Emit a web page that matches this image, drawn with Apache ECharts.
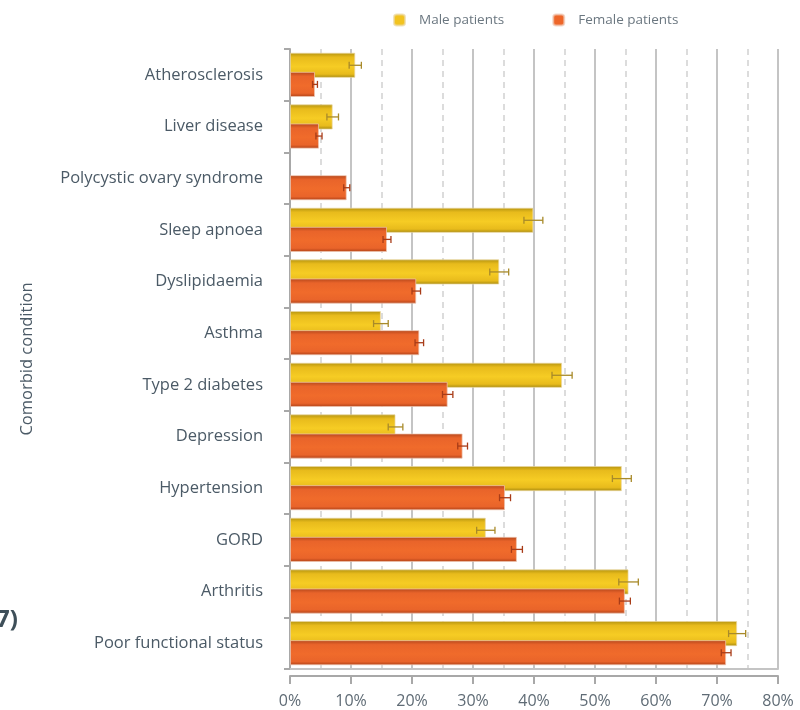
<!DOCTYPE html>
<html>
<head>
<meta charset="utf-8">
<script src="https://cdn.jsdelivr.net/npm/echarts@6/dist/echarts.min.js"></script>
<style>
  html, body { margin: 0; padding: 0; background: #fff; }
  #chart { width: 800px; height: 710px; }
</style>
</head>
<body>
<div id="chart"></div>
<script>
// Comorbid conditions by sex (percentage of patients, with error bars)
const categories = [
  'Atherosclerosis', 'Liver disease', 'Polycystic ovary syndrome', 'Sleep apnoea',
  'Dyslipidaemia', 'Asthma', 'Type 2 diabetes', 'Depression', 'Hypertension',
  'GORD', 'Arthritis', 'Poor functional status'
];
const maleValues   = [10.7, 7.0, null, 39.9, 34.3, 14.9, 44.6, 17.3, 54.4, 32.1, 55.5, 73.3];
const maleErr      = [1.0, 0.95, null, 1.55, 1.55, 1.2, 1.65, 1.2, 1.55, 1.5, 1.6, 1.4];
const femaleValues = [4.1, 4.75, 9.3, 15.9, 20.7, 21.2, 25.85, 28.3, 35.25, 37.2, 54.9, 71.5];
const femaleErr    = [0.4, 0.5, 0.5, 0.65, 0.7, 0.7, 0.85, 0.8, 0.9, 0.9, 0.9, 0.8];
const xTicks = [0, 10, 20, 30, 40, 50, 60, 70, 80];

const CAT_GAP = 0.143;   // barCategoryGap as a fraction of the band
const BAR_GAP = -0.24;   // overlap between the two bars as a fraction of bar width

const textColor = '#4b5a66';
const gridSolid = '#c4c4c4';
const axisGray = '#a8a8a8';

function grad(edgeTop, mid1, mid2, edgeBot) {
  return new echarts.graphic.LinearGradient(0, 0, 0, 1, [
    { offset: 0, color: edgeTop },
    { offset: 0.18, color: mid1 },
    { offset: 0.55, color: mid2 },
    { offset: 0.85, color: mid1 },
    { offset: 1, color: edgeBot }
  ]);
}

function errData(values, errs) {
  const out = [];
  values.forEach((v, i) => {
    if (v != null) out.push([v, i, errs[i]]);
  });
  return out;
}

function errRenderer(seriesPos, color) {
  return function (params, api) {
    const v = api.value(0), idx = api.value(1), e = api.value(2);
    const band = api.size([0, 1])[1];
    const barW = band * (1 - CAT_GAP) / (2 + BAR_GAP);
    const span = 2 * barW + BAR_GAP * barW;
    const offset = -span / 2 + barW / 2 + seriesPos * (barW + BAR_GAP * barW);
    const c = api.coord([v, idx]);
    const y = c[1] + offset;
    const x0 = api.coord([v - e, idx])[0];
    const x1 = api.coord([v + e, idx])[0];
    const st = { stroke: color, lineWidth: 1.3 };
    return {
      type: 'group',
      children: [
        { type: 'line', shape: { x1: x0, y1: y, x2: x1, y2: y }, style: st },
        { type: 'line', shape: { x1: x0, y1: y - 3.5, x2: x0, y2: y + 3.5 }, style: st },
        { type: 'line', shape: { x1: x1, y1: y - 3.5, x2: x1, y2: y + 3.5 }, style: st }
      ]
    };
  };
}

const chart = echarts.init(document.getElementById('chart'), null, { renderer: 'canvas' });

const option = {
  animation: false,
  backgroundColor: '#ffffff',
  textStyle: { fontFamily: 'Open Sans' },
  color: ['#f2c31f', '#ee6629'],
  legend: {
    top: 8,
    left: 388,
    itemWidth: 11,
    itemHeight: 11,
    itemGap: 48,
    icon: 'roundRect',
    textStyle: { color: '#6b7780', fontSize: 13.5, fontFamily: 'Open Sans', padding: [0, 0, 0, 9] },
    data: [
      { name: 'Male patients', itemStyle: { color: '#f2c31f' } },
      { name: 'Female patients', itemStyle: { color: '#ee6629' } }
    ]
  },
  grid: { left: 290, right: 22, top: 49, bottom: 41, containLabel: false },
  xAxis: [
    {
      type: 'value', min: 0, max: 80, interval: 10,
      axisLine: { show: true, lineStyle: { color: gridSolid, width: 2 } },
      axisTick: { show: false },
      axisLabel: { show: false },
      splitLine: { show: true, lineStyle: { color: gridSolid, width: 2 } },
      minorTick: { show: false, splitNumber: 2 },
      minorSplitLine: { show: true, lineStyle: { color: '#dcdcdc', width: 2, type: [6, 5] } }
    },
    {
      type: 'value', min: 0, max: 80, interval: 10, position: 'bottom', offset: 7,
      axisLine: { show: true, lineStyle: { color: axisGray, width: 2 } },
      axisTick: { show: true, inside: false, length: 8, lineStyle: { color: axisGray, width: 2 } },
      axisLabel: {
        margin: 17, color: '#5f6b75', fontSize: 16, fontFamily: 'Open Sans',
        formatter: v => xTicks.indexOf(v) >= 0 ? v + '%' : ''
      },
      splitLine: { show: false }
    }
  ],
  yAxis: {
    type: 'category',
    data: categories,
    inverse: true,
    offset: 8,
    axisLine: { show: true, lineStyle: { color: axisGray, width: 2 } },
    axisTick: { show: true, length: 6, alignWithLabel: false, lineStyle: { color: axisGray, width: 2 } },
    axisLabel: { margin: 19, color: textColor, fontSize: 16.5, fontFamily: 'Open Sans' },
    name: 'Comorbid condition',
    nameLocation: 'middle',
    nameRotate: 90,
    nameGap: 246,
    nameTextStyle: { color: textColor, fontSize: 16.5, fontFamily: 'Open Sans' }
  },
  series: [
    {
      name: 'Male patients',
      type: 'bar',
      xAxisIndex: 0,
      data: maleValues,
      barCategoryGap: (CAT_GAP * 100) + '%',
      barGap: (BAR_GAP * 100) + '%',
      itemStyle: {
        color: grad('#b2920f', '#e8bb1c', '#f6cc24', '#a3870f'),
        borderColor: 'rgba(235,215,160,0.7)', borderWidth: 1
      },
      z: 2
    },
    {
      name: 'Female patients',
      type: 'bar',
      xAxisIndex: 0,
      data: femaleValues,
      barCategoryGap: (CAT_GAP * 100) + '%',
      barGap: (BAR_GAP * 100) + '%',
      itemStyle: {
        color: grad('#b3461b', '#e9642a', '#f06b2b', '#ad3f16'),
        borderColor: 'rgba(240,200,180,0.7)', borderWidth: 1
      },
      z: 3
    },
    {
      name: 'maleErr',
      type: 'custom',
      xAxisIndex: 0,
      data: errData(maleValues, maleErr),
      encode: { x: 0, y: 1 },
      renderItem: errRenderer(0, '#a88a2a'),
      z: 5,
      silent: true
    },
    {
      name: 'femaleErr',
      type: 'custom',
      xAxisIndex: 0,
      data: errData(femaleValues, femaleErr),
      encode: { x: 0, y: 1 },
      renderItem: errRenderer(1, '#a83c18'),
      z: 5,
      silent: true
    }
  ],
  graphic: [
    {
      type: 'text', left: -4, top: 608,
      style: { text: '7)', fill: '#3e4f59', font: 'bold 24px "Open Sans"' }
    }
  ]
};

chart.setOption(option);
</script>
</body>
</html>
